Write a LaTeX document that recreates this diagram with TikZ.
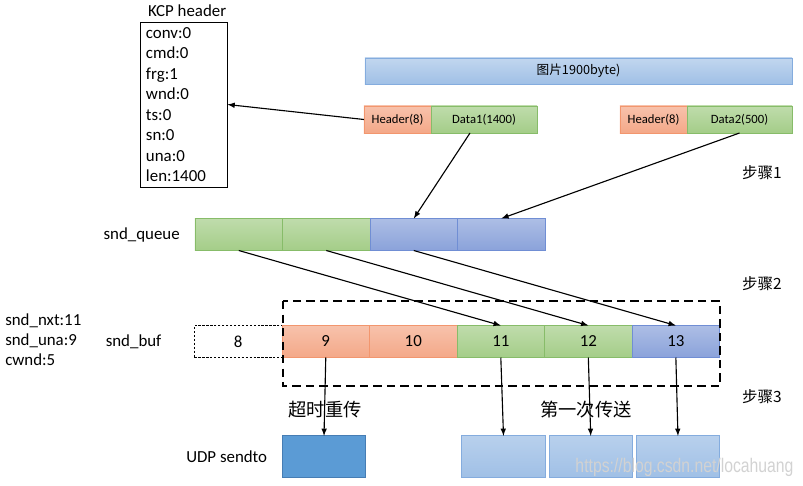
\documentclass[tikz,border=0pt]{standalone}
\usepackage{fontspec}
\setmainfont{Carlito}
\newfontfamily\cjk{Noto Sans CJK SC}
\newfontfamily\markfont[FakeStretch=0.8]{Liberation Sans}
\usetikzlibrary{positioning}

\definecolor{hdrorange}{RGB}{244,168,136}
\definecolor{hdrline}{RGB}{242,150,110}
\definecolor{datagreen}{RGB}{164,205,136}
\definecolor{dataline}{RGB}{135,188,105}
\definecolor{segblue}{RGB}{138,162,218}
\definecolor{segline}{RGB}{112,142,212}
\definecolor{picblue}{RGB}{160,192,230}
\definecolor{picline}{RGB}{132,172,222}
\definecolor{udpblue}{RGB}{91,155,213}
\definecolor{udpline}{RGB}{70,125,180}
\definecolor{marktext}{RGB}{210,210,210}

\newcommand{\cellw}{2.1875cm}
\newcommand{\cellh}{0.8cm}
\newcommand{\rowh}{0.675cm}
\newcommand{\udpw}{2.08cm}
\newcommand{\udph}{1.03cm}
\newcommand{\bigfont}{\fontsize{12}{14.6}\selectfont}
\newcommand{\smallfont}{\fontsize{9}{11}\selectfont}

\tikzset{
  seg/.style={inner sep=0pt, outer sep=0pt, minimum width=\cellw, minimum height=\cellh, line width=0.6pt, font=\bigfont},
  hdr/.style={seg, draw=hdrline, top color=hdrorange!70, bottom color=hdrorange},
  dat/.style={seg, draw=dataline, top color=datagreen!70, bottom color=datagreen},
  blu/.style={seg, draw=segline, top color=segblue!70, bottom color=segblue},
  row/.style={minimum height=\rowh, font=\smallfont},
  udp/.style={inner sep=0pt, outer sep=0pt, minimum width=\udpw, minimum height=\udph, line width=0.6pt, draw=picline, top color=picblue!75, bottom color=picblue},
  step label/.style={font=\cjk\fontsize{11}{13}\selectfont},
  send label/.style={font=\cjk\fontsize{13}{15}\selectfont, inner sep=0pt},
  link/.style={line width=0.8pt, -latex}
}

\begin{document}
\begin{tikzpicture}[x=0.025cm, y=-0.025cm]
  \useasboundingbox (0,0) rectangle (803,486);

  \node [draw, line width=0.6pt, align=left, text width=1.875cm, inner xsep=0.15cm, inner ysep=0pt,
         minimum height=4.125cm, font=\bigfont] (kcp) at (183.5,104.5)
        {conv:0\\cmd:0\\frg:1\\wnd:0\\ts:0\\sn:0\\una:0\\len:1400};
  \node [above=0.12cm of kcp, inner sep=0pt, font=\bigfont, xshift=0.09cm] (kcptitle) {KCP header};

  \node [seg, row, minimum width=10.675cm, minimum height=0.65cm, draw=picline, top color=picblue!65, bottom color=picblue,
         font=\cjk\smallfont] (pic) at (578.5,71) {图片1900byte)};

  \node [hdr, row, minimum width=1.675cm] (hd1) at (397.5,119.5) {Header(8)};
  \node [dat, row, minimum width=2.65cm, right=0pt of hd1] (d1) {Data1(1400)};
  \node [hdr, row, minimum width=1.675cm] (hd2) at (653.5,119.5) {Header(8)};
  \node [dat, row, minimum width=2.625cm, right=0pt of hd2] (d2) {Data2(500)};

  \node [dat] (q1) at (238.75,234.5) {};
  \node [dat, right=0pt of q1] (q2) {};
  \node [blu, right=0pt of q2] (q3) {};
  \node [blu, right=0pt of q3] (q4) {};
  \node [left=0.375cm of q1, font=\bigfont, inner sep=0pt] (qlabel) {snd\_queue};

  \node [seg, draw, dash pattern=on 1.6pt off 1.2pt, line width=0.5pt] (b8) at (238.25,341.5) {8};
  \node [hdr, right=0pt of b8] (b9) {9};
  \node [hdr, right=0pt of b9] (b10) {10};
  \node [dat, right=0pt of b10] (b11) {11};
  \node [dat, right=0pt of b11] (b12) {12};
  \node [blu, right=0pt of b12] (b13) {13};
  \node [left=0.82cm of b8, font=\bigfont, inner sep=0pt] (blabel) {snd\_buf};
  \node [anchor=west, align=left, inner sep=0pt, font=\fontsize{12}{14.2}\selectfont] (vars) at (5,340)
        {snd\_nxt:11\\snd\_una:9\\cwnd:5};

  \draw [line width=1.4pt, dash pattern=on 6pt off 3.6pt] (283,301) rectangle (720,386);

  \node [udp, draw=udpline, top color=udpblue, bottom color=udpblue] (u1) at (324,456.5) {};
  \node [udp] (u2) at (503.5,456.5) {};
  \node [udp, right=0.1cm of u2] (u3) {};
  \node [udp, right=0.1cm of u3] (u4) {};
  \node [left=0.375cm of u1, font=\bigfont, inner sep=0pt] (ulabel) {UDP sendto};

  \node [send label] (retx) at (325,410) {超时重传};
  \node [send label] (first) at (586,410) {第一次传送};

  \node [step label] (s1) at (762,173) {步骤1};
  \node [step label] (s2) at (762,284) {步骤2};
  \node [step label] (s3) at (762,397) {步骤3};

  \draw [link] (hd1.west) -- (kcp.east);
  \draw [link] ([xshift=-0.35cm]d1.south) -- (q3.north);
  \draw [link] (d2.south) -- (q4.north);

  \draw [link] (q1.south) -- (b11.north);
  \draw [link] (q2.south) -- (b12.north);
  \draw [link] (q3.south) -- (b13.north);

  \draw [link] (b9.south) -- (u1.north);
  \draw [link] (b11.south) -- (u2.north);
  \draw [link] (b12.south) -- (u3.north);
  \draw [link] (b13.south) -- (u4.north);

  \node [text=marktext, font=\markfont\fontsize{14}{16}\selectfont, inner sep=0pt] (mark) at (684.5,467) {https://blog.csdn.net/locahuang};

\end{tikzpicture}
\end{document}
